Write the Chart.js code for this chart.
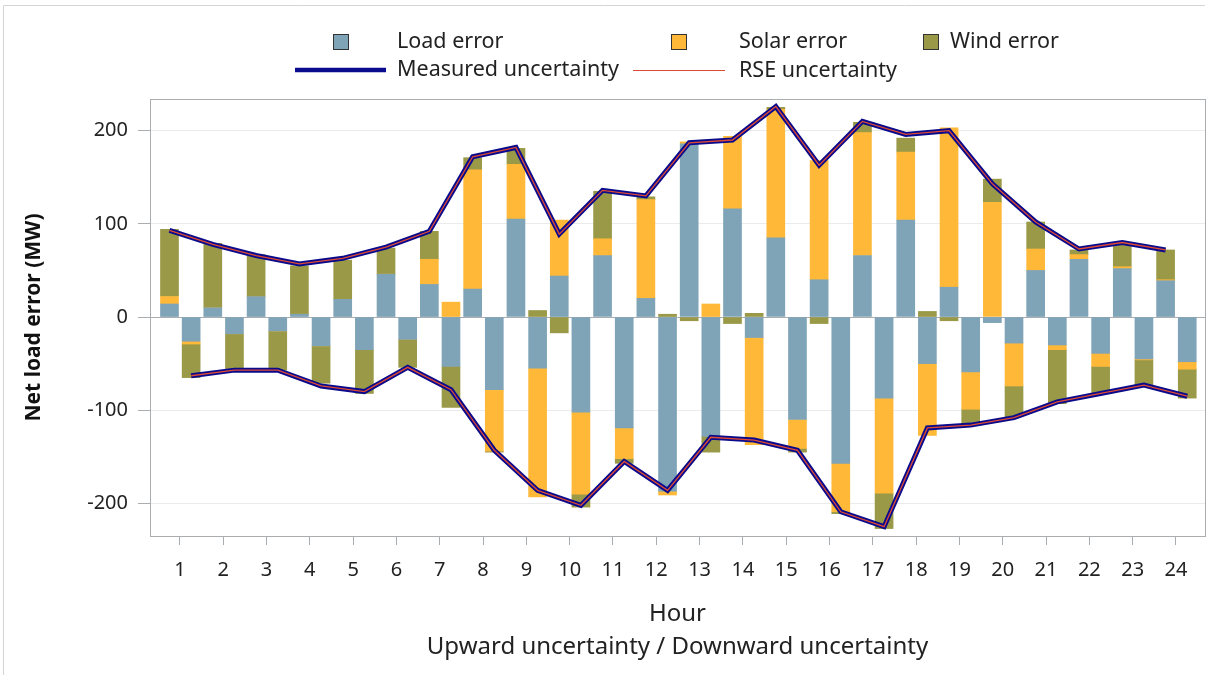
<!DOCTYPE html>
<html><head><meta charset="utf-8">
<script src="https://cdn.jsdelivr.net/npm/chart.js@4.4.1/dist/chart.umd.min.js"></script>
<style>html,body{margin:0;padding:0;background:#fff}</style>
</head><body>
<canvas id="c" width="1215" height="675"></canvas>
<script>
// ---- data ----
const hours = [1,2,3,4,5,6,7,8,9,10,11,12,13,14,15,16,17,18,19,20,21,22,23,24];
const yTicks = [-200,-100,0,100,200];
// upward uncertainty bar components
const loadUp  = [14,10,22,3,19,46,35,30,105,44,66,20,186,116,85,40,66,104,32,-6,50,62,52,39];
const solarUp = [8,0,0,0,0,0,27,128,59,60,18,106,2,78,138,128,132,73,171,123,23,5,2,1];
const windUp  = [72,69,45,52,42,28,30,13,17,-17,51,3,-4,-7,2,-7,11,15,-4,25,29,5,25,32];
// downward uncertainty bar components
const loadDown  = [-26,-18,-15,-31,-35,-24,-53,-78,-55,-102,-119,-187,-128,-22,-110,-157,-87,-50,-59,-28,-30,-39,-45,-48];
const solarDown = [-3,0,0,0,0,0,16,-66,-138,-88,-33,-4,14,-115,-31,-52,-102,-77,-40,-46,-5,-14,-1,-8];
const windDown  = [-36,-39,-42,-40,-47,-30,-44,-1,7,-14,-5,3,-17,4,-4,-2,-38,6,-17,-33,-58,-29,-27,-31];
// uncertainty envelopes
const measuredUp   = [93,78,66,57,63,75,92,172,182,89,136,130,187,190,226,163,210,196,200,143,102,73,80,72];
const measuredDown = [-63,-57,-57,-74,-80,-54,-78,-143,-186,-202,-155,-186,-129,-132,-143,-209,-225,-119,-116,-108,-91,-82,-73,-85];
const rseUp   = [93,78,66,57,63,75,92,172,182,89,136,130,187,190,226,163,210,196,200,143,102,73,80,72];
const rseDown = [-63,-57,-57,-74,-80,-54,-78,-143,-186,-202,-155,-186,-129,-132,-143,-209,-225,-119,-116,-108,-91,-82,-73,-85];

// ---- layout / style constants ----
const UP_OFF = -0.24, DOWN_OFF = 0.26;
const FONT = '"Noto Sans", "Open Sans", sans-serif';
const C_LOAD = '#7FA3B7', C_SOLAR = '#FFB838', C_WIND = '#999948';
const C_MEAS = '#0A0A8C', C_RSE = '#DD4B35';

function barPts(up, down){
  const pts = [];
  hours.forEach((h,i)=>{ pts.push({x:h+UP_OFF, y:up[i]}); pts.push({x:h+DOWN_OFF, y:down[i]}); });
  return pts;
}
function linePts(up, down){
  const pts = hours.map((h,i)=>({x:h+UP_OFF, y:up[i]}));
  pts.push({x:24.5, y:null});
  hours.forEach((h,i)=>pts.push({x:h+DOWN_OFF, y:down[i]}));
  return pts;
}

Chart.defaults.font.family = FONT;
Chart.defaults.font.size = 20;
Chart.defaults.color = '#222';

const legendItems = [
  {label:'Load error', kind:'box', color:C_LOAD, bx:333, tx:397, y:42},
  {label:'Solar error', kind:'box', color:C_SOLAR, bx:671, tx:739, y:42},
  {label:'Wind error', kind:'box', color:C_WIND, bx:923, tx:950, y:42},
  {label:'Measured uncertainty', kind:'line', color:C_MEAS, w:4.5, x0:295, x1:386, tx:397, y:70},
  {label:'RSE uncertainty', kind:'line', color:C_RSE, w:1, x0:633, x1:725, tx:739, y:70.5}
];

const decor = {
  id:'decor',
  afterDraw(chart){
    const ctx = chart.ctx, a = chart.chartArea;
    ctx.save();
    // outer border (top/left)
    ctx.strokeStyle = '#d4d4d4'; ctx.lineWidth = 1;
    ctx.beginPath(); ctx.moveTo(3.5, 675); ctx.lineTo(3.5, 5.5); ctx.lineTo(1205, 5.5); ctx.stroke();
    // plot frame
    ctx.strokeStyle = '#a9adb0';
    ctx.strokeRect(Math.round(a.left)+0.5, Math.round(a.top)+0.5, Math.round(a.right-a.left), Math.round(a.bottom-a.top));
    // legend
    ctx.font = '21.5px ' + FONT; ctx.textBaseline = 'middle'; ctx.textAlign = 'left';
    legendItems.forEach(it=>{
      if(it.kind==='box'){
        ctx.fillStyle = it.color; ctx.fillRect(it.bx, it.y-8, 16, 16);
        ctx.strokeStyle = '#333'; ctx.lineWidth = 1; ctx.strokeRect(it.bx+0.5, it.y-7.5, 15, 15);
      } else {
        ctx.strokeStyle = it.color; ctx.lineWidth = it.w;
        ctx.beginPath(); ctx.moveTo(it.x0, it.y); ctx.lineTo(it.x1, it.y); ctx.stroke();
      }
      ctx.fillStyle = '#222'; ctx.fillText(it.label, it.tx, Math.round(it.y));
    });
    ctx.restore();
  }
};

new Chart(document.getElementById('c'), {
  type:'bar',
  data:{
    datasets:[
      {type:'line', label:'RSE uncertainty', data:linePts(rseUp, rseDown), borderColor:C_RSE, borderWidth:1.3, pointRadius:0, spanGaps:false, tension:0},
      {type:'line', label:'Measured uncertainty', data:linePts(measuredUp, measuredDown), borderColor:C_MEAS, borderWidth:5, pointRadius:0, spanGaps:false, tension:0},
      {label:'Load error', data:barPts(loadUp, loadDown), backgroundColor:C_LOAD, stack:'err', barThickness:18, borderWidth:0},
      {label:'Solar error', data:barPts(solarUp, solarDown), backgroundColor:C_SOLAR, stack:'err', barThickness:18, borderWidth:0},
      {label:'Wind error', data:barPts(windUp, windDown), backgroundColor:C_WIND, stack:'err', barThickness:18, borderWidth:0}
    ]
  },
  options:{
    responsive:false, animation:false, devicePixelRatio:1,
    layout:{padding:{top:99, right:10, left:0, bottom:0}},
    plugins:{legend:{display:false}, tooltip:{enabled:false}},
    scales:{
      x:{
        type:'linear', min:0.31, max:24.67, offset:false,
        afterBuildTicks: s => { s.ticks = hours.map(v=>({value:v})); },
        afterFit: s => { s.height = 139; },
        grid:{offset:false, drawOnChartArea:false, drawTicks:true, tickLength:9, tickColor:'#a9adb0'},
        border:{display:false},
        ticks:{padding:13, color:'#222', font:{size:20}, callback:v=>String(v), maxRotation:0, autoSkip:false},
        title:{display:true, text:['Hour','Upward uncertainty / Downward uncertainty'], font:{size:24, lineHeight:1.375}, color:'#222', padding:{top:0, bottom:11}}
      },
      y:{
        min:-235, max:234,
        afterBuildTicks: s => { s.ticks = yTicks.map(v=>({value:v})); },
        afterFit: s => { s.width = 150; },
        grid:{color: c => (c.tick && c.tick.value===0) ? '#a9adb0' : '#ebebeb', tickColor:'#a9adb0', tickLength:12, drawTicks:true},
        border:{display:false},
        ticks:{padding:10, color:'#222', font:{size:20}},
        title:{display:true, text:'Net load error (MW)', font:{size:21, weight:'bold'}, color:'#111', padding:{top:21, bottom:0}}
      }
    }
  },
  plugins:[decor]
});
</script>
</body></html>
